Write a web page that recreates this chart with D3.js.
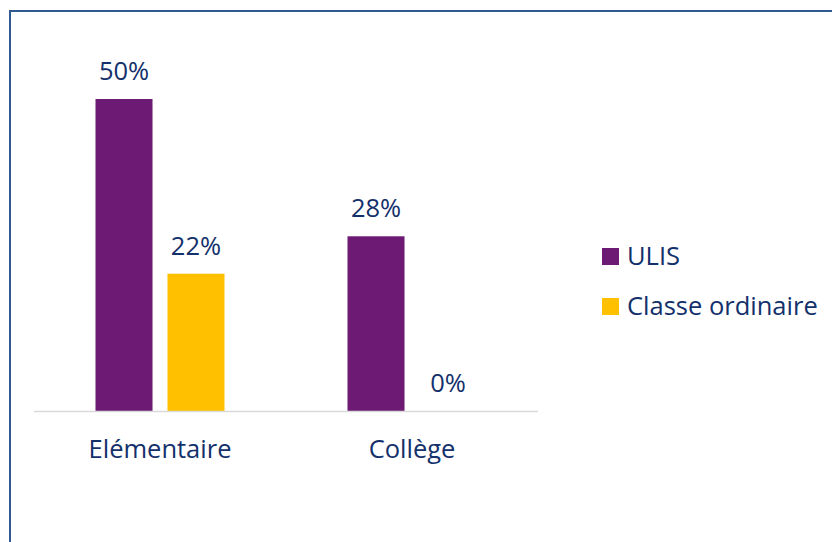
<!DOCTYPE html>
<html>
<head>
<meta charset="utf-8">
<script src="https://cdn.jsdelivr.net/npm/d3@7"></script>
<style>
  body { margin: 0; background: #fff; }
  text { font-family: "Open Sans", "Noto Sans", sans-serif; fill: #13306B; }
</style>
</head>
<body>
<svg id="chart" width="832" height="542"></svg>
<script>
// data
var categories = ['Elémentaire', 'Collège'];
var seriesNames = ['ULIS', 'Classe ordinaire'];
var ulis = [50, 28];
var ordinaire = [22, 0];
var colors = ['#6D1A74', '#FFC000'];

var width = 832, height = 542;
var fontSize = '25.5px';
var svg = d3.select('#chart');

// outer frame (cropped on right/bottom like the source)
svg.append('rect')
  .attr('x', 10).attr('y', 11)
  .attr('width', 840).attr('height', 560)
  .attr('fill', 'none')
  .attr('stroke', '#2F5A8F')
  .attr('stroke-width', 2);

var plot = { left: 34, right: 538, top: 99, bottom: 411 };
var groupW = 129;

var x0 = d3.scaleBand()
  .domain(categories)
  .range([plot.left, plot.right]);

var x1 = d3.scaleBand()
  .domain(seriesNames)
  .range([0, groupW])
  .paddingInner(0.208);

var y = d3.scaleLinear()
  .domain([0, 50])
  .range([plot.bottom, plot.top]);

var rows = categories.map(function(c, i) {
  return { cat: c, values: [
    { name: seriesNames[0], v: ulis[i], color: colors[0] },
    { name: seriesNames[1], v: ordinaire[i], color: colors[1] }
  ]};
});

var groups = svg.selectAll('g.grp').data(rows).enter().append('g')
  .attr('class', 'grp')
  .attr('transform', function(d) {
    return 'translate(' + (x0(d.cat) + (x0.bandwidth() - groupW) / 2) + ',0)';
  });

groups.selectAll('rect').data(function(d) { return d.values; }).enter().append('rect')
  .attr('x', function(d) { return x1(d.name); })
  .attr('y', function(d) { return y(d.v); })
  .attr('width', x1.bandwidth())
  .attr('height', function(d) { return y(0) - y(d.v); })
  .attr('fill', function(d) { return d.color; });

groups.selectAll('text.val').data(function(d) { return d.values; }).enter().append('text')
  .attr('class', 'val')
  .attr('text-anchor', 'middle')
  .attr('x', function(d) { return x1(d.name) + x1.bandwidth() / 2; })
  .attr('y', function(d) { return y(d.v) - 19; })
  .style('font-size', fontSize)
  .text(function(d) { return d.v + '%'; });

// baseline
svg.append('line')
  .attr('x1', plot.left).attr('x2', plot.right)
  .attr('y1', y(0) + 0.5).attr('y2', y(0) + 0.5)
  .attr('stroke', '#D9D9D9')
  .attr('stroke-width', 1.5);

// category axis
var xAxis = svg.append('g')
  .attr('transform', 'translate(0,' + y(0) + ')')
  .call(d3.axisBottom(x0).tickSize(0).tickPadding(0));
xAxis.select('.domain').remove();
xAxis.selectAll('text')
  .attr('dy', null)
  .attr('y', 47)
  .style('font-size', fontSize)
  .style('font-family', '"Open Sans", "Noto Sans", sans-serif')
  .attr('fill', '#13306B');

// legend
var legend = svg.selectAll('g.leg').data(seriesNames).enter().append('g')
  .attr('class', 'leg')
  .attr('transform', function(d, i) { return 'translate(602,' + (248 + i * 50) + ')'; });
legend.append('rect')
  .attr('width', 17).attr('height', 17)
  .attr('fill', function(d, i) { return colors[i]; });
legend.append('text')
  .attr('x', 25).attr('y', 17)
  .style('font-size', fontSize)
  .text(function(d) { return d; });
</script>
</body>
</html>
